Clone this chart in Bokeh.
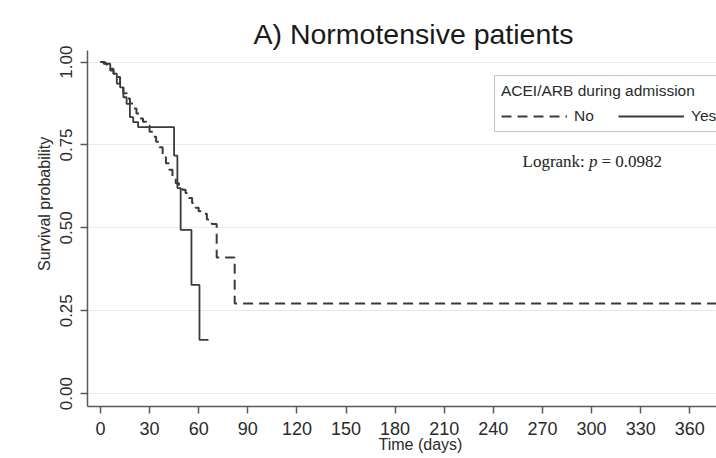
from bokeh.plotting import figure
from bokeh.models import Label, Legend, FixedTicker, PrintfTickFormatter, Range1d, Title
from bokeh.embed import file_html
from bokeh.resources import INLINE

# ---- data ----
no_days = [0, 2, 4, 6, 8, 10, 12, 14, 16, 18, 20, 22, 24, 26, 28, 30, 32, 34, 36, 38,
           40, 42, 44, 46, 48, 50, 52, 54, 56, 58, 60, 62, 65, 68, 71, 82, 390]
no_surv = [1.0, 0.995, 0.985, 0.975, 0.965, 0.955, 0.93, 0.906, 0.89, 0.875, 0.86, 0.845,
           0.83, 0.82, 0.809, 0.79, 0.775, 0.76, 0.743, 0.72, 0.695, 0.675, 0.655, 0.635,
           0.625, 0.615, 0.605, 0.59, 0.575, 0.561, 0.55, 0.543, 0.525, 0.512, 0.411, 0.272, 0.272]

yes_days = [0, 3, 6, 8, 10, 12, 14, 16, 18, 20, 23, 45, 47, 49, 55.6, 60.5, 66]
yes_surv = [1.0, 0.995, 0.98, 0.965, 0.935, 0.924, 0.894, 0.874, 0.834, 0.819, 0.804,
            0.718, 0.62, 0.494, 0.328, 0.162, 0.162]

x_ticks = list(range(0, 361, 30))
y_ticks = [0.0, 0.25, 0.5, 0.75, 1.0]

title_text = "A) Normotensive patients"
legend_title = "ACEI/ARB during admission"
x_label = "Time (days)"
y_label = "Survival probability"

FONT = "Liberation Sans"
LINE = "#3a3a3a"
AXIS = "#5a5a5a"

p = figure(width=716, height=458, output_backend="svg", toolbar_location=None,
           x_range=Range1d(-7.9, 376.3), y_range=Range1d(-0.0387, 1.035),
           min_border_left=87, min_border_right=0, min_border_top=50, min_border_bottom=52)
p.title = Title(text=title_text, align="left", offset=166, standoff=1,
                text_font=FONT, text_font_size="28.5px", text_font_style="normal",
                text_color="#1a1a1a")
p.outline_line_color = None
p.background_fill_color = "white"
p.border_fill_color = "white"

r_no = p.step(no_days, no_surv, mode="after", line_color=LINE, line_width=2, line_dash="10 6")
r_yes = p.step(yes_days, yes_surv, mode="after", line_color=LINE, line_width=1.8)

# axes
p.xaxis.ticker = FixedTicker(ticks=x_ticks)
p.yaxis.ticker = FixedTicker(ticks=y_ticks)
p.yaxis.formatter = PrintfTickFormatter(format="%.2f")
for ax in (p.xaxis[0], p.yaxis[0]):
    ax.axis_line_color = AXIS
    ax.axis_line_width = 1.5
    ax.major_tick_line_color = AXIS
    ax.major_tick_line_width = 1.5
    ax.major_tick_out = 7
    ax.major_tick_in = 0
    ax.minor_tick_line_color = None
    ax.major_label_text_font = FONT
    ax.major_label_text_color = "#2a2a2a"
    ax.major_label_standoff = 8
p.xaxis.major_label_text_font_size = "18px"
p.yaxis.major_label_text_font_size = "17px"
p.yaxis.major_label_orientation = "vertical"

# axis titles (as plot titles so they can be shifted like the reference)
p.add_layout(Title(text=x_label, align="left", offset=291, standoff=-8,
                   text_font=FONT, text_font_size="16px", text_font_style="normal",
                   text_color="#2a2a2a"), "below")
p.add_layout(Title(text=y_label, align="left", offset=135.5, standoff=10,
                   text_font=FONT, text_font_size="16px", text_font_style="normal",
                   text_color="#2a2a2a"), "left")

p.xgrid.grid_line_color = None
p.ygrid.grid_line_color = "#e4eeee"
p.ygrid.grid_line_width = 1

# legend
legend = Legend(items=[("No", [r_no]), ("Yes", [r_yes])], orientation="horizontal",
                location=(407, 273.8), title=legend_title,
                title_text_font=FONT, title_text_font_size="15.5px",
                title_text_font_style="normal", title_text_color="#2a2a2a",
                title_standoff=7, label_text_font=FONT, label_text_font_size="15.5px",
                label_text_color="#2a2a2a", glyph_width=66, glyph_height=16,
                label_standoff=7, spacing=24, padding=6, margin=0,
                border_line_color="#8a8a8a", border_line_width=1,
                background_fill_color="white", background_fill_alpha=1)
p.add_layout(legend)

# logrank annotation
SERIF = "Liberation Serif"
p.add_layout(Label(x=435, y=245.5, x_units="screen", y_units="screen", text="Logrank: ",
                   text_font=SERIF, text_font_size="17px", text_color="#222222",
                   text_baseline="alphabetic"))
p.add_layout(Label(x=501.5, y=245.5, x_units="screen", y_units="screen", text="p",
                   text_font=SERIF, text_font_size="17px", text_font_style="italic",
                   text_color="#222222", text_baseline="alphabetic"))
p.add_layout(Label(x=514, y=245.5, x_units="screen", y_units="screen", text="= 0.0982",
                   text_font=SERIF, text_font_size="17px", text_color="#222222",
                   text_baseline="alphabetic"))

open("out.html", "w").write(file_html(p, INLINE))
